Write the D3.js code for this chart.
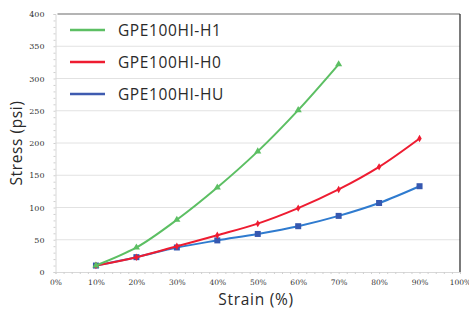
<!DOCTYPE html>
<html>
<head>
<meta charset="utf-8">
<script src="https://cdn.jsdelivr.net/npm/d3@7"></script>
<style>
  body { margin: 0; background: #fff; }
  svg { display: block; }
</style>
</head>
<body>
<svg id="chart"></svg>
<script>
// strain in %, stress in psi
const strainH1 = [10, 20, 30, 40, 50, 60, 70];
const stressH1 = [10, 38, 81, 131, 187, 251, 322];
const strainH0 = [10, 20, 30, 40, 50, 60, 70, 80, 90];
const stressH0 = [10, 23, 40, 57, 75, 99, 128, 163, 207];
const strainHU = [10, 20, 30, 40, 50, 60, 70, 80, 90];
const stressHU = [10, 23, 38, 49, 59, 71, 87, 107, 133];

const seriesNames = ["GPE100HI-H1", "GPE100HI-H0", "GPE100HI-HU"];
const xTicks = [0, 10, 20, 30, 40, 50, 60, 70, 80, 90, 100];
const yTicks = [0, 50, 100, 150, 200, 250, 300, 350, 400];

const width = 469, height = 310;
const margin = {top: 14, right: 9, bottom: 38, left: 55.5};
const labelFont = "'Open Sans', sans-serif";

const svg = d3.select("#chart")
    .attr("width", width)
    .attr("height", height);

const x = d3.scaleLinear().domain([0, 100]).range([margin.left, width - margin.right]);
const y = d3.scaleLinear().domain([0, 400]).range([height - margin.bottom, margin.top]);

// grid lines
svg.append("g")
    .selectAll("line")
    .data(yTicks.filter(d => d > 0 && d < 400))
    .join("line")
    .attr("x1", x(0)).attr("x2", x(100))
    .attr("y1", d => y(d)).attr("y2", d => y(d))
    .attr("stroke", "#e2e2e2")
    .attr("stroke-width", 1);

// frame: top and right
svg.append("line")
    .attr("x1", x(0) + 2).attr("x2", x(100))
    .attr("y1", y(400)).attr("y2", y(400))
    .attr("stroke", "#6a6a6a").attr("stroke-width", 1.2);
svg.append("line")
    .attr("x1", x(100)).attr("x2", x(100))
    .attr("y1", y(400)).attr("y2", y(0))
    .attr("stroke", "#222").attr("stroke-width", 1.2);

// y axis
const yAxis = svg.append("g")
    .attr("transform", `translate(${x(0)},0)`)
    .call(d3.axisLeft(y).tickValues(d3.range(0, 401, 10)).tickSize(2).tickFormat(d => yTicks.includes(d) ? d : ""));
yAxis.select(".domain").attr("stroke", "#d8d8d8");
yAxis.selectAll(".tick line").attr("stroke", "#cfcfcf");
yAxis.selectAll(".tick text")
    .attr("x", -11)
    .style("font-family", "'DejaVu Serif', serif")
    .style("font-size", "8px")
    .attr("fill", "#333");

// x axis
const xAxis = svg.append("g")
    .attr("transform", `translate(0,${y(0)})`)
    .call(d3.axisBottom(x).tickValues(d3.range(0, 101, 2)).tickSize(2).tickFormat(d => xTicks.includes(d) ? d + "%" : ""));
xAxis.select(".domain").attr("stroke", "#d8d8d8");
xAxis.selectAll(".tick line").attr("stroke", "#cfcfcf");
xAxis.selectAll(".tick text")
    .attr("y", 8)
    .style("font-family", "'DejaVu Serif', serif")
    .style("font-size", "7.5px")
    .attr("fill", "#333");

// axis titles
svg.append("text")
    .attr("transform", `translate(22,${(y(0) + y(400)) / 2}) rotate(-90)`)
    .attr("text-anchor", "middle")
    .style("font-family", labelFont)
    .style("font-size", "15.5px")
    .style("letter-spacing", "0.6px")
    .attr("fill", "#2a2a2a")
    .text("Stress (psi)");
svg.append("text")
    .attr("x", 256).attr("y", 305)
    .attr("text-anchor", "middle")
    .style("font-family", labelFont)
    .style("font-size", "15.5px")
    .style("letter-spacing", "0.7px")
    .attr("fill", "#2a2a2a")
    .text("Strain (%)");

const line = d3.line()
    .x(d => x(d[0]))
    .y(d => y(d[1]))
    .curve(d3.curveCatmullRom.alpha(0.5));

const series = [
    {xs: strainH1, ys: stressH1, color: "#5cbf63", marker: "tri"},
    {xs: strainH0, ys: stressH0, color: "#ee1c31", marker: "dia"},
    {xs: strainHU, ys: stressHU, color: "#2f7bcf", marker: "sq", markColor: "#3658b0"}
];

// draw HU first, then H0, then H1 on top
[2, 1, 0].forEach(i => {
    const s = series[i];
    const pts = s.xs.map((v, j) => [v, s.ys[j]]);
    svg.append("path")
        .datum(pts)
        .attr("d", line)
        .attr("fill", "none")
        .attr("stroke", s.color)
        .attr("stroke-width", 2);
    const mc = s.markColor || s.color;
    const g = svg.append("g");
    if (s.marker === "tri") {
        g.selectAll("path").data(pts).join("path")
            .attr("d", d3.symbol(d3.symbolTriangle, 22))
            .attr("transform", d => `translate(${x(d[0])},${y(d[1])})`)
            .attr("fill", mc);
    } else if (s.marker === "dia") {
        g.selectAll("path").data(pts).join("path")
            .attr("d", d3.symbol(d3.symbolDiamond, 16))
            .attr("transform", d => `translate(${x(d[0])},${y(d[1])})`)
            .attr("fill", mc);
    } else {
        g.selectAll("rect").data(pts).join("rect")
            .attr("x", d => x(d[0]) - 3).attr("y", d => y(d[1]) - 3)
            .attr("width", 6).attr("height", 6)
            .attr("fill", mc);
    }
});

// legend
const legendColors = ["#5cbf63", "#ee1c31", "#3f5bb0"];
const legend = svg.append("g");
seriesNames.forEach((name, i) => {
    const ly = 30 + i * 32;
    legend.append("line")
        .attr("x1", 70).attr("x2", 105)
        .attr("y1", ly).attr("y2", ly)
        .attr("stroke", legendColors[i])
        .attr("stroke-width", 2.5);
    legend.append("text")
        .attr("x", 118).attr("y", ly + 6)
        .style("font-family", labelFont)
        .style("font-size", "15.5px")
        .style("letter-spacing", "0.6px")
        .attr("fill", "#2a2a2a")
        .text(name);
});
</script>
</body>
</html>
